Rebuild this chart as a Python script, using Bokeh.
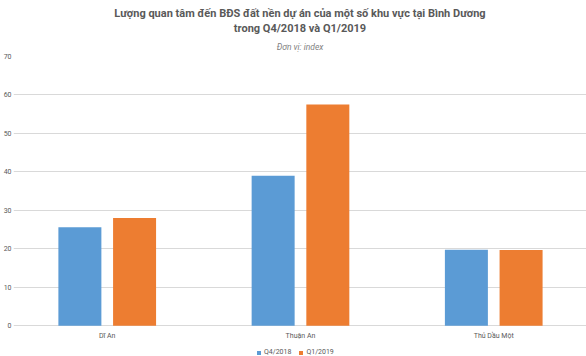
from bokeh.plotting import figure
from bokeh.models import (Range1d, Title, Legend, LegendItem, FixedTicker,
                          ColumnDataSource)
from bokeh.core.properties import value
from bokeh.transform import dodge
from bokeh.embed import file_html
from bokeh.resources import INLINE

categories = ["Dĩ An", "Thuận An", "Thủ Dầu Một"]
series_names = ["Q4/2018", "Q1/2019"]
q4_2018 = [25.6, 39.0, 19.8]
q1_2019 = [28.0, 57.5, 19.7]
y_ticks = [0, 10, 20, 30, 40, 50, 60, 70]

title_line1 = "Lượng quan tâm đến BĐS đất nền dự án của một số khu vực tại Bình Dương"
title_line2 = "trong Q4/2018 và Q1/2019"
subtitle = "Đơn vị: index"

BLUE = "#5B9BD5"
ORANGE = "#ED7D31"
FONT = "Roboto"

idx = list(range(len(categories)))
src = ColumnDataSource(dict(x=idx, q4=q4_2018, q1=q1_2019, cat=categories,
                            base=[0] * len(idx)))

p = figure(width=586, height=356, output_backend="svg", toolbar_location=None,
           x_range=Range1d(-0.485, 2.48), y_range=Range1d(-7.98, 70),
           min_border_left=0, min_border_right=0, min_border_top=56,
           min_border_bottom=0, outline_line_color=None)

bw = 0.2225
r1 = p.vbar(x=dodge("x", -0.1415, range=p.x_range), top="q4", width=bw,
            source=src, fill_color=BLUE, line_color=None)
r2 = p.vbar(x=dodge("x", 0.1415, range=p.x_range), top="q1", width=bw,
            source=src, fill_color=ORANGE, line_color=None)

# category labels under the baseline
p.text(x="x", y="base", text="cat", source=src, text_font=value(FONT),
       text_font_size="7px", text_color="#595959", text_align="center",
       text_baseline="top", y_offset=6)

# titles (first added = closest to the plot)
p.add_layout(Title(text=subtitle, align="center", text_font=FONT,
                   text_font_size="8.5px", text_font_style="italic",
                   text_color="#7f7f7f", standoff=10), "above")
p.add_layout(Title(text=title_line2, align="center", text_font=FONT,
                   text_font_size="11px", text_font_style="bold",
                   text_color="#595959", standoff=0), "above")
p.add_layout(Title(text=title_line1, align="center", text_font=FONT,
                   text_font_size="11px", text_font_style="bold",
                   text_color="#595959", standoff=0), "above")

# axes
p.xaxis.visible = False

p.yaxis.ticker = FixedTicker(ticks=y_ticks)
p.yaxis.axis_line_color = None
p.yaxis.major_tick_line_color = None
p.yaxis.minor_tick_line_color = None
p.yaxis.major_tick_out = 0
p.yaxis.major_tick_in = 0
p.yaxis.major_label_text_font = FONT
p.yaxis.major_label_text_font_size = "7px"
p.yaxis.major_label_text_color = "#595959"
p.yaxis.major_label_standoff = 2

p.xgrid.grid_line_color = None
p.ygrid.ticker = FixedTicker(ticks=y_ticks)
p.ygrid.grid_line_color = "#d9d9d9"

legend = Legend(items=[LegendItem(label=series_names[0], renderers=[r1]),
                       LegendItem(label=series_names[1], renderers=[r2])],
                orientation="horizontal", location=(243, 0),
                border_line_color=None, background_fill_alpha=0,
                label_text_font=FONT, label_text_font_size="7px",
                label_text_color="#595959", glyph_width=5, glyph_height=5,
                label_standoff=3, spacing=7, padding=0, margin=0,
                label_height=7)
p.add_layout(legend, "center")

open("out.html", "w").write(file_html(p, INLINE))
